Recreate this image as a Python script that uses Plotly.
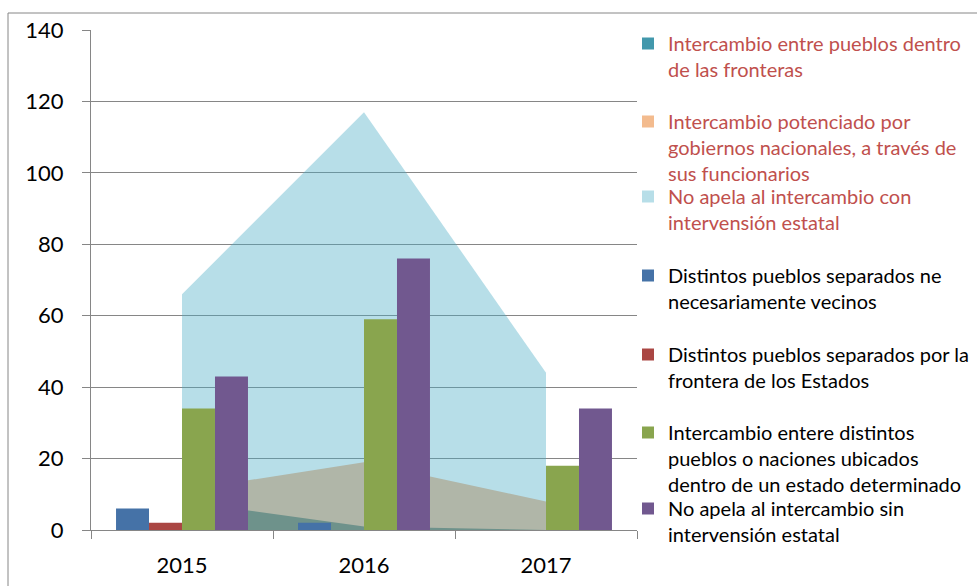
import plotly.graph_objects as go

# Categories
years = ["2015", "2016", "2017"]

# Area series (drawn behind the bars)
area_names = [
    "Intercambio entre pueblos dentro<br>de las fronteras",
    "Intercambio potenciado por<br>gobiernos nacionales, a través de<br>sus funcionarios",
    "No apela al intercambio con<br>intervensión estatal",
]
dentro_fronteras = [8, 1, 0]
potenciado_gobiernos = [11, 19, 8]
apela_con_estado = [66, 117, 44]

# Bar series
bar_names = [
    "Distintos pueblos separados ne<br>necesariamente vecinos",
    "Distintos pueblos separados por la<br>frontera de los Estados",
    "Intercambio entere distintos<br>pueblos o naciones ubicados<br>dentro de un estado determinado",
    "No apela al intercambio sin<br>intervensión estatal",
]
no_vecinos = [6, 2, 0]
frontera_estados = [2, 0, 0]
dentro_estado = [34, 59, 18]
sin_intervencion = [43, 76, 34]

y_ticks = [0, 20, 40, 60, 80, 100, 120, 140]

# Styling
W, H = 977, 586
ML, MR, MT, MB = 91, 340, 30, 56
PW, PH = W - ML - MR, H - MT - MB
FONT = "Lato"
GRID = "#868686"

area_fills = ["#4097AA", "rgba(228,100,10,0.43)", "rgba(75,172,198,0.4)"]
area_keys = ["#4298AC", "#F3BB8E", "#B7DEE8"]
bar_colors = ["#4572A7", "#AA4643", "#89A54E", "#71588F"]
area_text = "#C0504D"


def px_to_paper_x(px):
    return (px - ML) / PW


def px_to_paper_y(py):
    return (MT + PH - py) / PH


fig = go.Figure()

# Overlapping (non-stacked) translucent areas
for name, vals, fill in zip(area_names, [dentro_fronteras, potenciado_gobiernos, apela_con_estado], area_fills):
    fig.add_trace(go.Scatter(
        x=years, y=vals, mode="none", fill="tozeroy", fillcolor=fill,
        name=name, showlegend=False, hoverinfo="skip", xaxis="x", yaxis="y",
    ))

# Grouped bars on an overlaid subplot so they sit in front of the areas
for name, vals, col in zip(bar_names, [no_vecinos, frontera_estados, dentro_estado, sin_intervencion], bar_colors):
    fig.add_trace(go.Bar(
        x=years, y=vals, name=name, marker=dict(color=col, line=dict(width=0)),
        xaxis="x2", yaxis="y2", showlegend=False,
    ))

# Legend keys: one legend per entry, evenly spaced down the right side
line1_centres = [44, 122, 197, 276, 355, 433, 509]
key_colors = area_keys + bar_colors
all_names = area_names + bar_names
LEG_OFF = 20
legend_layouts = {}
for i, (name, col, yc) in enumerate(zip(all_names, key_colors, line1_centres)):
    lname = "legend" if i == 0 else f"legend{i + 1}"
    fig.add_trace(go.Scatter(
        x=[None], y=[None], mode="markers", name=name,
        marker=dict(symbol="square", size=12, color=col, line=dict(width=0)),
        legend=lname, showlegend=True, hoverinfo="skip",
    ))
    legend_layouts[lname] = dict(
        x=px_to_paper_x(628), xanchor="left",
        y=px_to_paper_y(yc - LEG_OFF), yanchor="top",
        bgcolor="rgba(0,0,0,0)", borderwidth=0, valign="top",
        itemwidth=30,
        font=dict(family=FONT, size=20, color=area_text if i < 3 else "#000000"),
    )

fig.update_layout(
    width=W, height=H,
    margin=dict(l=ML, r=MR, t=MT, b=MB, pad=0, autoexpand=False),
    paper_bgcolor="white", plot_bgcolor="white",
    font=dict(family=FONT, size=22, color="#000000"),
    bargap=0.275, bargroupgap=0, barmode="group",
    xaxis=dict(
        type="category", categoryorder="array", categoryarray=years,
        range=[-0.5, 2.5], tickson="boundaries", ticks="outside", ticklen=8,
        tickcolor=GRID, tickwidth=1, showline=True, linecolor=GRID, linewidth=1,
        showgrid=False, zeroline=False, ticklabelstandoff=16,
        tickfont=dict(family=FONT, size=22, color="#000000"),
    ),
    yaxis=dict(
        range=[0, 140], tickvals=y_ticks, ticks="outside", ticklen=8,
        tickcolor=GRID, tickwidth=1, showline=True, linecolor=GRID, linewidth=1,
        showgrid=True, gridcolor=GRID, gridwidth=1, zeroline=False,
        ticklabelstandoff=14,
        tickfont=dict(family=FONT, size=22, color="#000000"),
    ),
    xaxis2=dict(
        type="category", categoryorder="array", categoryarray=years,
        range=[-0.5, 2.5], overlaying="x", visible=False,
    ),
    yaxis2=dict(range=[0, 140], overlaying="y", visible=False),
    **legend_layouts,
)

# Chart frame
fig.add_shape(
    type="rect", xref="paper", yref="paper",
    x0=px_to_paper_x(8), x1=px_to_paper_x(1000),
    y0=px_to_paper_y(13), y1=px_to_paper_y(620),
    line=dict(color=GRID, width=1), fillcolor="rgba(0,0,0,0)", layer="below",
)

fig.write_html("out.html")
